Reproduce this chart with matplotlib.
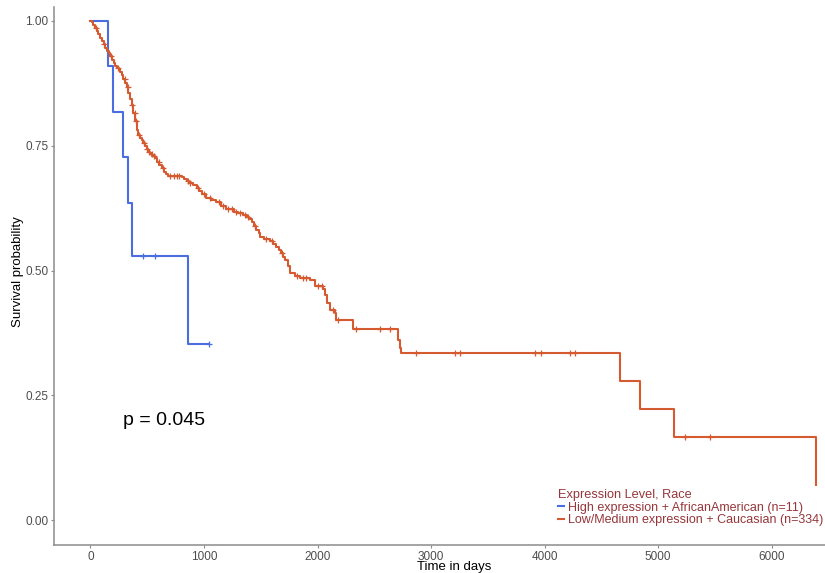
import numpy as np
import matplotlib.pyplot as plt
from matplotlib.lines import Line2D

plt.rcParams['font.family'] = ['Liberation Sans', 'DejaVu Sans']

# Kaplan-Meier steps (time in days, survival after the step)
high_times = [0, 151, 199, 283, 333, 363, 861, 1045]
high_surv = [1.0, 0.909, 0.818, 0.727, 0.636, 0.530, 0.353, 0.353]
high_censor = [465, 568, 1045]

low_times = [0, 10, 25, 40, 55, 70, 84, 100, 115, 128, 145, 160, 172, 190, 205, 216,
             235, 250, 260, 275, 290, 305, 319, 335, 348, 363, 378, 392, 407, 420,
             436, 450, 465, 480, 495, 509, 525, 545, 568, 590, 605, 626, 645, 665,
             685, 802, 825, 846, 870, 900, 934, 960, 985, 1022, 1060, 1110, 1150,
             1198, 1261, 1300, 1340, 1378, 1400, 1420, 1437, 1460, 1480, 1496, 1530,
             1584, 1610, 1635, 1657, 1680, 1700, 1716, 1740, 1760, 1800, 1848, 1936,
             1976, 2049, 2064, 2079, 2108, 2152, 2161, 2314, 2710, 2725, 2739, 4661,
             4837, 5137, 6393]
low_surv = [1.0, 0.997, 0.991, 0.985, 0.979, 0.973, 0.966, 0.960, 0.954, 0.945, 0.940,
            0.936, 0.930, 0.922, 0.915, 0.910, 0.906, 0.903, 0.898, 0.891, 0.884, 0.876,
            0.868, 0.856, 0.844, 0.832, 0.816, 0.800, 0.782, 0.772, 0.766, 0.761, 0.756,
            0.749, 0.743, 0.738, 0.733, 0.730, 0.726, 0.718, 0.712, 0.705, 0.698, 0.693,
            0.690, 0.687, 0.684, 0.680, 0.675, 0.671, 0.665, 0.659, 0.653, 0.646, 0.642,
            0.637, 0.630, 0.624, 0.618, 0.615, 0.612, 0.608, 0.603, 0.597, 0.589, 0.582,
            0.575, 0.568, 0.564, 0.560, 0.553, 0.547, 0.541, 0.535, 0.528, 0.521, 0.509,
            0.495, 0.490, 0.484, 0.480, 0.468, 0.462, 0.451, 0.434, 0.421, 0.414, 0.401,
            0.382, 0.361, 0.345, 0.334, 0.279, 0.222, 0.167, 0.0]
low_censor = [50, 120, 180, 240, 300, 330, 370, 390, 400, 430, 470, 500, 520, 540, 560,
              600, 640, 700, 740, 760, 780, 860, 880, 950, 1000, 1050, 1130, 1170, 1210,
              1250, 1280, 1320, 1360, 1390, 1450, 1550, 1600, 1690, 1820, 1875, 1900,
              2000, 2040, 2137, 2180, 2343, 2548, 2636, 2871, 3209, 3253, 3913, 3972,
              4221, 4265, 5239, 5460]

labels = ['High expression + AfricanAmerican (n=11)',
          'Low/Medium expression + Caucasian (n=334)']
colors = ['#4a6ee0', '#d65a30']
x_ticks = [0, 1000, 2000, 3000, 4000, 5000, 6000]
y_ticks = [0.0, 0.25, 0.5, 0.75, 1.0]


def surv_at(times, surv, t):
    idx = np.searchsorted(times, t, side='right') - 1
    return np.array(surv)[idx]


fig = plt.figure(figsize=(8.25, 5.73), dpi=100)
ax = fig.add_axes([54 / 825, 28 / 573, 771 / 825, 538 / 573])

for times, surv, cens, col in [(high_times, high_surv, high_censor, colors[0]),
                               (low_times, low_surv, low_censor, colors[1])]:
    ax.step(times, surv, where='post', color=col, lw=1.5, zorder=3)
    ax.plot(cens, surv_at(times, surv, cens), linestyle='none', marker='+',
            markersize=4.5, mew=0.9, color=col, zorder=3)

ax.set_xlim(-321, 6469)
ax.set_ylim(-0.05, 1.028)
ax.set_xticks(x_ticks)
ax.set_yticks(y_ticks)
ax.set_yticklabels([f'{v:.2f}' for v in y_ticks])

for side in ['top', 'right']:
    ax.spines[side].set_visible(False)
for side in ['left', 'bottom']:
    ax.spines[side].set_color('#8c8c8c')
    ax.spines[side].set_linewidth(1.1)
ax.tick_params(direction='out', length=2.5, width=0.8, color='#8c8c8c',
               labelsize=8.5, labelcolor='#4d4d4d', pad=1.5)

fig.text(18 / 825, 1 - 272 / 573, 'Survival probability', fontsize=9.5,
         rotation=90, ha='center', va='center')
fig.text(454 / 825, 1 - 567 / 573, 'Time in days', fontsize=9.5,
         ha='center', va='center')

ax.text(288, 0.2, 'p = 0.045', fontsize=14, ha='left', va='center')

handles = [Line2D([], [], color=c, lw=1.5) for c in colors]
leg = ax.legend(handles, labels, title='Expression Level, Race', loc='upper left',
                bbox_to_anchor=(555 / 825, 1 - 486 / 573), bbox_transform=fig.transFigure,
                fontsize=9, title_fontsize=9.2, frameon=True, fancybox=False,
                facecolor='white', edgecolor='none', framealpha=1,
                handlelength=0.5, handletextpad=0.25, labelspacing=0.05,
                borderpad=0.25, borderaxespad=0, alignment='left',
                labelcolor='#96363a')
leg.get_title().set_color('#96363a')
leg.set_zorder(5)

fig.savefig('out.png', dpi=100)
